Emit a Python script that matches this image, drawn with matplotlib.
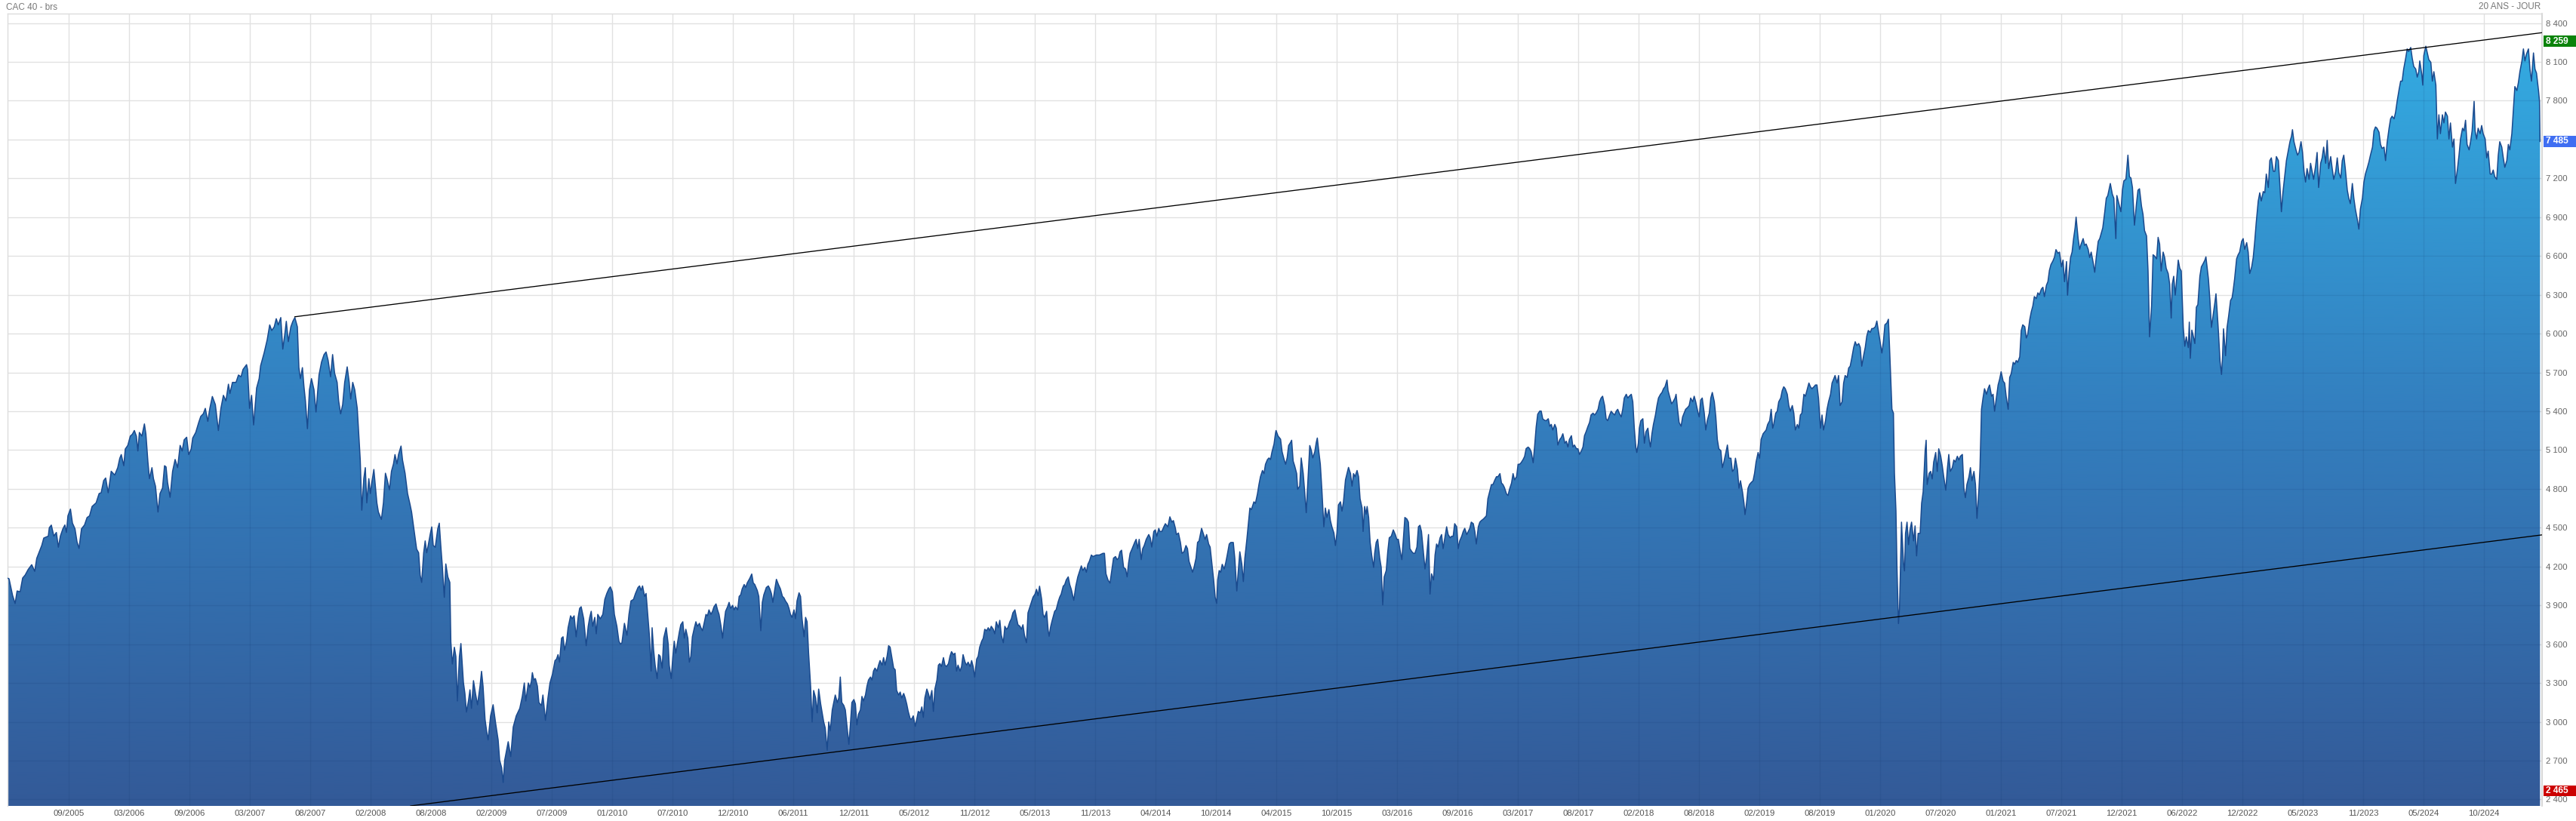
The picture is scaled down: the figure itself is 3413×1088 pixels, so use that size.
import numpy as np
import matplotlib
matplotlib.use("Agg")
import matplotlib.pyplot as plt
from matplotlib.colors import LinearSegmentedColormap
from matplotlib.patches import PathPatch, Rectangle
import matplotlib.transforms as mtransforms

plt.rcParams['font.family'] = ['Liberation Sans', 'DejaVu Sans']

# ---- data: (trading-session index, CAC 40 close) ----
seg_2005_2009 = [(0,4110),(3,4105),(10,3977),(15,3914),(19,4011),(25,4005),(30,4111),(35,4134),(41,4177),(48,4214),
(54,4163),(58,4263),(68,4363),(72,4420),(81,4435),(83,4500),(87,4520),(92,4435),(97,4463),(101,4349),(105,4435),
(110,4492),(114,4521),(117,4463),(120,4592),(125,4644),(129,4535),(134,4492),(138,4392),(142,4340),(147,4492),
(153,4521),(158,4578),(163,4592),(168,4664),(176,4692),(182,4764),(186,4770),(191,4864),(195,4884),(200,4770),
(203,4850),(206,4936),(213,4907),(219,4964),(223,5036),(226,5065),(231,4979),(234,5108),(239,5136),(244,5208),
(248,5222),(252,5251),(256,5208),(259,5093),(262,5236),(267,5208),(272,5302),(275,5222),(279,5007),(282,4879),
(287,4964),(290,4879),(294,4821),(299,4621),(303,4764),(308,4807),(312,4979),(315,4970),(318,4850),(323,4735),
(328,4936),(333,5027),(338,4964),(343,5136),(347,5093),(351,5179),(356,5199),(360,5065),(365,5108),(368,5193),
(374,5236),(380,5314),(384,5360),(389,5380),(393,5422),(398,5322),(402,5422),(407,5514),(413,5451),(419,5251),
(424,5422),(429,5523),(434,5480),(439,5609),(442,5537),(447,5623),(454,5623),(459,5680),(464,5666),(468,5723),
(475,5760),(477,5723),(481,5422),(485,5523),(489,5294),(495,5580),(500,5652),(503,5752),(510,5852),(516,5952),
(521,6067),(525,6024),(530,6052),(534,6115),(538,6067),(543,6124),(547,5880),(551,5995),(554,6095),(558,5938),
(563,6052),(567,6095),(571,6124),(576,6052),(579,5737),(582,5652),(586,5737),(589,5594),(592,5480),(596,5265),
(600,5566),(604,5652),(609,5566),(613,5394),(619,5680),(624,5780),(629,5838),(633,5858),(637,5795),(642,5666),
(646,5838),(650,5694),(655,5623),(658,5480),(662,5380),(666,5451),(670,5623),(675,5743),(679,5623),(682,5494),
(686,5623),(690,5566),(695,5422),(698,5222),(701,5022),(704,4635),(708,4879),(711,4964),(714,4692),(718,4879),
(721,4764),(724,4850),(728,4950),(731,4821),(734,4692),(737,4621),(743,4564),(747,4692),(751,4921),(754,4879),
(759,4793),(763,4936),(767,4993),(770,5065),(774,4993),(777,5065),(782,5131),(785,5022),(790,4921),(795,4764),
(800,4678),(803,4621),(807,4506),(810,4420),(813,4335),(817,4306),(820,4134),(823,4077),(827,4306),(830,4398),
(833,4306),(836,4363),(840,4449),(843,4506),(846,4363),(850,4349),(855,4492),(858,4535),(861,4363),(864,4206),
(868,3962),(871,4220),(875,4120),(879,4077),(881,3619),(884,3447),(888,3576),(891,3504),(894,3161),(898,3504),
(901,3605),(906,3304),(909,3218),(912,3075),(916,3161),(919,3247),(922,3104),(926,3318),(930,3218),(934,3132),
(939,3275),(942,3390),(945,3275),(949,3018),(952,2932),(955,2860),(960,3046),(965,3132),(970,2989),(975,2860),
(978,2703),(982,2645),(985,2531),(988,2703),(995,2846),(1000,2731),(1005,2960),(1011,3046),(1018,3104)]

seg_2009_2013 = [(1023,3196),(1027,3300),(1030,3161),(1035,3300),(1038,3265),(1041,3311),(1043,3380),(1046,3323),
(1049,3334),(1053,3276),(1056,3149),(1061,3126),(1064,3207),(1069,3011),(1074,3184),(1078,3300),(1083,3369),
(1088,3473),(1091,3484),(1094,3519),(1097,3461),(1101,3646),(1104,3657),(1107,3554),(1111,3623),(1114,3727),
(1119,3819),(1122,3796),(1126,3819),(1130,3657),(1134,3807),(1137,3877),(1140,3889),(1145,3796),(1150,3588),
(1154,3738),(1157,3807),(1160,3854),(1163,3738),(1167,3807),(1170,3680),(1173,3830),(1178,3796),(1183,3830),
(1187,3946),(1191,3992),(1195,4027),(1198,4043),(1202,4004),(1206,3830),(1211,3738),(1215,3623),(1218,3600),
(1221,3611),(1226,3761),(1231,3669),(1235,3830),(1239,3934),(1244,3946),(1248,3992),(1253,4038),(1256,4050),
(1259,4015),(1262,4050),(1266,3969),(1269,3992),(1272,3842),(1276,3646),(1279,3392),(1281,3727),(1284,3554),
(1287,3438),(1291,3334),(1294,3519),(1297,3507),(1301,3415),(1304,3646),(1309,3727),(1313,3600),(1315,3438),
(1319,3334),(1322,3496),(1325,3623),(1328,3530),(1332,3623),(1335,3692),(1338,3750),(1342,3773),(1345,3646),
(1348,3715),(1352,3646),(1355,3461),(1358,3507),(1361,3657),(1365,3727),(1368,3773),(1371,3738),(1375,3761),
(1378,3727),(1381,3704),(1385,3773),(1388,3830),(1391,3819),(1394,3865),(1398,3830),(1401,3854),(1404,3889),
(1408,3911),(1411,3865),(1414,3830),(1418,3738),(1421,3646),(1424,3761),(1427,3854),(1431,3889),(1434,3923),
(1437,3877),(1441,3900),(1444,3865),(1447,3889),(1451,3865),(1454,3969),(1457,3981),(1460,4027),(1464,4061),
(1467,4038),(1470,4073),(1475,4108),(1479,4142),(1482,4073),(1485,4061),(1490,4015),(1493,3969),(1497,3704),
(1500,3923),(1503,3981),(1508,4038),(1512,4050),(1515,4027),(1518,3992),(1521,3923),(1524,4004),(1528,4101),
(1532,4061),(1536,4027),(1540,3969),(1543,3958),(1546,3934),(1550,3911),(1553,3877),(1556,3830),(1559,3807),
(1563,3865),(1566,3796),(1569,3934),(1573,3997),(1576,3969),(1579,3796),(1583,3657),(1586,3807),(1589,3773),
(1592,3530),(1596,3276),(1599,2999),(1602,3242),(1606,3184),(1609,3069),(1612,3253),(1616,3138),(1619,3069),
(1622,2999),(1625,2953),(1629,2780),(1632,2999),(1635,2930),(1639,3092),(1642,3149),(1645,3207),(1649,3149),
(1652,3184),(1655,3346),(1658,3149),(1662,3126),(1665,3092),(1668,2976),(1672,2826),(1675,2976),(1678,3149),
(1682,3172),(1685,3138),(1688,2976),(1691,3057),(1695,3092),(1698,3196),(1701,3161),(1705,3207),(1708,3276),
(1711,3323),(1715,3346),(1718,3323),(1721,3392),(1724,3415),(1728,3392),(1731,3438),(1734,3473),(1738,3438),
(1741,3496),(1744,3438),(1748,3507),(1751,3588),(1754,3577),(1757,3507),(1761,3415),(1764,3403),(1767,3242),
(1771,3207),(1774,3230),(1777,3184),(1781,3219),(1784,3184),(1787,3138),(1790,3080),(1794,3022),(1797,3022),
(1800,3046),(1804,2965),(1807,3022),(1810,3080),(1814,3069),(1817,3115),(1820,3034),(1823,3184),(1827,3253),
(1830,3219),(1833,3172),(1837,3242),(1840,3080),(1843,3253),(1847,3323),(1850,3438),(1853,3450),(1856,3427),
(1860,3496),(1863,3438),(1866,3427),(1870,3450),(1873,3507),(1876,3542),(1880,3519),(1883,3530),(1886,3392),
(1889,3438),(1893,3392),(1896,3427),(1899,3519),(1903,3461),(1906,3438),(1909,3461),(1913,3427),(1916,3473),
(1919,3427),(1922,3346),(1926,3484),(1929,3507),(1932,3577),(1936,3623),(1939,3646),(1942,3715),(1946,3704),
(1949,3727),(1952,3704),(1955,3738),(1959,3715),(1962,3680),(1965,3773),(1969,3727),(1972,3784),(1975,3669),
(1979,3611),(1982,3738),(1985,3715),(1988,3727),(1992,3773),(1995,3796),(1998,3842),(2002,3865),(2005,3807),
(2008,3750),(2012,3738),(2015,3715),(2018,3750),(2021,3669),(2025,3611)]

seg_2013_2017 = [(2028,3842),(2032,3891),(2035,3927),(2038,3963),(2042,3987),(2045,4024),(2048,3975),(2051,4048),
(2055,3951),(2058,3830),(2061,3806),(2065,3854),(2068,3709),(2070,3661),(2073,3734),(2076,3782),(2081,3854),
(2084,3866),(2088,3927),(2091,3963),(2094,3987),(2098,4048),(2101,4060),(2104,4096),(2108,4120),(2111,4060),
(2114,4024),(2119,3939),(2123,4048),(2127,4120),(2131,4169),(2134,4205),(2137,4169),(2141,4193),(2144,4156),
(2147,4217),(2150,4241),(2154,4289),(2157,4277),(2164,4289),(2170,4289),(2177,4302),(2180,4302),(2183,4144),
(2187,4096),(2191,4072),(2195,4181),(2198,4265),(2202,4277),(2205,4253),(2208,4265),(2211,4314),(2214,4326),
(2218,4193),(2222,4181),(2225,4120),(2228,4229),(2231,4302),(2235,4338),(2240,4386),(2243,4410),(2246,4338),
(2249,4410),(2253,4253),(2256,4338),(2259,4362),(2263,4410),(2268,4447),(2271,4422),(2274,4350),(2278,4471),
(2281,4483),(2284,4434),(2288,4495),(2290,4471),(2294,4471),(2298,4507),(2301,4531),(2306,4507),(2310,4584),
(2314,4543),(2317,4555),(2321,4495),(2323,4447),(2327,4459),(2331,4386),(2334,4302),(2338,4314),(2342,4362),
(2345,4338),(2348,4241),(2352,4193),(2355,4156),(2358,4193),(2362,4265),(2365,4386),(2368,4398),(2373,4495),
(2376,4459),(2380,4410),(2383,4447),(2387,4374),(2390,4350),(2393,4241),(2397,4096),(2400,3963),(2403,3915),
(2405,4096),(2408,4169),(2411,4156),(2414,4217),(2418,4181),(2421,4229),(2424,4289),(2428,4374),(2431,4386),
(2436,4386),(2439,4265),(2443,4011),(2446,4169),(2449,4314),(2453,4217),(2456,4084),(2459,4265),(2463,4410),
(2466,4531),(2469,4652),(2472,4640),(2477,4700),(2480,4688),(2484,4761),(2487,4833),(2490,4894),(2494,4942),
(2497,4918),(2500,4990),(2504,5027),(2507,5039),(2510,5027),(2513,5087),(2517,5147),(2520,5232),(2521,5251),
(2525,5208),(2530,5184),(2533,5087),(2537,5027),(2540,4990),(2543,5039),(2546,5135),(2550,5160),(2552,5176),
(2555,5015),(2558,4978),(2562,4918),(2564,4797),(2568,4821),(2571,5039),(2575,4918),(2578,4773),(2581,4616),
(2585,4918),(2588,5135),(2591,5099),(2594,5039),(2598,5087),(2601,5160),(2603,5193),(2606,5087),(2609,4990),
(2612,4797),(2616,4507),(2619,4652),(2622,4579),(2626,4640),(2629,4555),(2632,4507),(2636,4459),(2639,4362),
(2642,4459),(2645,4676),(2649,4700),(2652,4628),(2655,4700),(2659,4870),(2662,4918),(2665,4966),(2669,4918),
(2672,4821),(2675,4918),(2678,4894),(2682,4942),(2685,4894),(2688,4724),(2692,4652),(2694,4471),(2697,4664),
(2700,4604),(2702,4664),(2705,4579),(2708,4386),(2711,4289),(2715,4193),(2717,4302),(2720,4386),(2723,4410),
(2727,4265),(2730,4193),(2733,3903),(2736,4120),(2740,4169),(2743,4314),(2746,4422),(2750,4434),(2754,4483),
(2758,4447),(2761,4410),(2764,4410),(2768,4314),(2771,4253),(2774,4410),(2777,4579),(2781,4567),(2784,4543),
(2787,4338),(2791,4314),(2794,4302),(2797,4302),(2801,4350),(2804,4507),(2807,4519),(2810,4471),(2814,4302),
(2817,4181),(2820,4265),(2824,4447),(2827,3987),(2830,4144),(2834,4096),(2837,4289),(2840,4374),(2843,4350),
(2847,4422),(2850,4447),(2853,4338),(2857,4434),(2860,4507),(2863,4447),(2867,4422),(2870,4434),(2873,4434),
(2876,4531),(2880,4507),(2883,4338),(2886,4398),(2890,4434),(2893,4471),(2896,4495),(2900,4447),(2903,4471),
(2906,4495),(2909,4543),(2913,4531),(2916,4471),(2919,4374),(2923,4507),(2926,4543),(2929,4555),(2933,4567),
(2936,4579),(2939,4592),(2942,4724),(2946,4785),(2949,4833),(2952,4833),(2956,4870),(2959,4894),(2962,4894),
(2966,4918),(2969,4845),(2972,4833),(2975,4809),(2979,4761),(2982,4749),(2985,4797),(2989,4845),(2992,4918),
(2995,4870),(2999,4894),(3002,4990),(3005,4990),(3008,5002),(3012,5027),(3015,5051),(3018,5111),(3022,5123),
(3025,5111),(3028,5087),(3032,5002),(3035,5135),(3038,5280),(3041,5377),(3045,5401),(3048,5401),(3051,5341),
(3055,5329)]

seg_2017_2021 = [(3058,5327),(3062,5342),(3065,5284),(3068,5298),(3071,5255),(3075,5298),(3078,5269),(3081,5139),
(3085,5182),(3088,5197),(3091,5226),(3095,5153),(3098,5168),(3101,5124),(3104,5182),(3108,5211),(3111,5124),
(3114,5139),(3118,5110),(3121,5110),(3124,5066),(3128,5095),(3131,5124),(3134,5211),(3137,5240),(3141,5284),
(3144,5313),(3147,5371),(3151,5385),(3154,5371),(3157,5385),(3161,5415),(3164,5473),(3167,5502),(3170,5516),
(3174,5444),(3177,5342),(3180,5327),(3184,5371),(3187,5400),(3190,5385),(3194,5371),(3197,5400),(3200,5415),
(3203,5385),(3207,5356),(3210,5415),(3213,5502),(3217,5531),(3220,5502),(3223,5516),(3227,5531),(3230,5473),
(3233,5269),(3236,5124),(3238,5081),(3241,5153),(3243,5269),(3246,5327),(3250,5342),(3253,5153),(3256,5240),
(3260,5269),(3263,5168),(3265,5124),(3268,5226),(3271,5298),(3275,5371),(3278,5444),(3281,5502),(3285,5531),
(3288,5545),(3291,5574),(3294,5589),(3298,5641),(3300,5560),(3304,5502),(3307,5458),(3310,5473),(3314,5502),
(3316,5531),(3319,5415),(3322,5313),(3326,5284),(3329,5356),(3332,5385),(3335,5415),(3339,5429),(3342,5444),
(3345,5502),(3349,5473),(3352,5516),(3355,5473),(3359,5400),(3362,5356),(3365,5487),(3368,5502),(3372,5385),
(3375,5255),(3378,5327),(3382,5385),(3385,5502),(3388,5545),(3392,5473),(3395,5356),(3398,5182),(3401,5110),
(3405,5095),(3408,4964),(3411,5008),(3415,5081),(3418,5139),(3421,5037),(3425,5037),(3428,4935),(3431,4950),
(3434,5037),(3438,4950),(3441,4805),(3444,4863),(3448,4776),(3451,4689),(3453,4601),(3456,4689),(3459,4805),
(3462,4834),(3465,4848),(3469,4863),(3472,4921),(3475,5008),(3479,5081),(3482,5037),(3485,5182),(3489,5226),
(3492,5240),(3495,5255),(3498,5298),(3502,5327),(3505,5415),(3508,5269),(3510,5298),(3514,5385),(3517,5400),
(3520,5473),(3524,5502),(3527,5560),(3530,5589),(3533,5574),(3537,5531),(3540,5444),(3543,5400),(3547,5444),
(3550,5385),(3553,5255),(3557,5298),(3560,5269),(3563,5371),(3566,5385),(3570,5531),(3573,5516),(3576,5560),
(3580,5618),(3583,5589),(3586,5574),(3590,5589),(3593,5603),(3596,5603),(3599,5502),(3603,5269),(3606,5371),
(3609,5255),(3613,5327),(3616,5415),(3619,5473),(3623,5531),(3626,5618),(3629,5647),(3632,5676),(3636,5618),
(3639,5676),(3642,5444),(3646,5473),(3649,5618),(3652,5676),(3656,5661),(3659,5734),(3662,5748),(3665,5807),
(3669,5894),(3672,5937),(3675,5908),(3679,5923),(3682,5894),(3685,5748),(3689,5836),(3692,5894),(3695,5981),
(3698,6024),(3702,6010),(3705,6039),(3708,6039),(3712,6053),(3715,6097),(3718,6024),(3722,5923),(3725,5850),
(3728,5937),(3731,6068),(3735,6082),(3738,6111),(3741,5821),(3745,5415),(3748,5385),(3750,4921),(3753,4630),
(3755,4195),(3758,3759),(3760,3875),(3762,4195),(3764,4543),(3768,4224),(3770,4166),(3772,4456),(3775,4543),
(3778,4369),(3781,4485),(3784,4543),(3788,4398),(3791,4514),(3794,4282),(3797,4456),(3801,4456),(3804,4689),
(3807,4776),(3811,5095),(3813,5176),(3815,4834),(3819,4921),(3822,4935),(3825,4877),(3828,5008),(3832,5081),
(3835,4935),(3838,5110),(3842,5052),(3845,4979),(3848,4892),(3852,4790),(3855,4950),(3858,5066),(3861,4935),
(3865,4964),(3868,5023),(3871,5008),(3875,5052),(3878,5023),(3881,5052),(3885,5066),(3888,4805),(3891,4732),
(3894,4834),(3898,4892),(3901,4964),(3904,4863),(3908,4935),(3911,4834),(3914,4572),(3918,4805),(3920,4964),
(3923,5415),(3926,5502),(3929,5574),(3933,5531),(3936,5574),(3939,5603),(3943,5516),(3946,5531),(3949,5400),
(3953,5516),(3956,5603),(3959,5647),(3962,5705),(3966,5632),(3969,5618),(3972,5516),(3976,5415),(3979,5661),
(3982,5690),(3986,5778),(3989,5763),(3992,5792),(3995,5778),(3999,5821),(4002,6024),(4005,6068),(4009,6053),
(4012,5966),(4015,5995),(4019,6111),(4022,6170),(4025,6213),(4028,6286),(4032,6271),(4035,6315),(4038,6300),
(4042,6344),(4045,6358),(4048,6286),(4052,6373),(4055,6402),(4058,6489),(4061,6533),(4065,6562),(4068,6591),
(4071,6649),(4075,6620)]

seg_2021_2025 = [(4078,6630),(4082,6516),(4085,6568),(4088,6401),(4092,6557),(4094,6297),(4097,6474),(4100,6588),
(4103,6630),(4106,6734),(4109,6817),(4111,6900),(4115,6734),(4118,6651),(4121,6692),(4125,6734),(4128,6682),
(4131,6692),(4135,6651),(4138,6588),(4141,6630),(4145,6547),(4148,6474),(4151,6588),(4155,6713),(4158,6734),
(4161,6776),(4164,6817),(4168,6942),(4171,7046),(4174,7067),(4179,7160),(4183,7077),(4186,7046),(4190,6734),
(4192,7067),(4196,7004),(4200,6942),(4203,7108),(4206,7181),(4210,7192),(4214,7379),(4217,7212),(4220,7202),
(4223,7129),(4227,6838),(4231,7004),(4234,7108),(4237,7119),(4241,6984),(4244,6921),(4247,6796),(4251,6755),
(4254,6484),(4257,5975),(4261,6214),(4264,6609),(4267,6599),(4271,6578),(4274,6744),(4277,6692),(4280,6484),
(4284,6630),(4287,6588),(4290,6505),(4294,6464),(4297,6380),(4300,6120),(4302,6380),(4305,6443),(4308,6297),
(4310,6380),(4314,6568),(4317,6505),(4320,6484),(4324,6048),(4327,5902),(4330,5975),(4334,5892),(4336,6089),
(4338,5809),(4341,6027),(4343,5996),(4347,5923),(4350,6204),(4353,6224),(4357,6443),(4360,6516),(4363,6537),
(4367,6568),(4369,6593),(4371,6526),(4374,6422),(4377,6256),(4380,6048),(4383,6131),(4387,6245),(4389,6308),
(4391,6193),(4394,6006),(4397,5788),(4400,5684),(4402,5819),(4404,6037),(4408,5829),(4411,6048),(4414,6131),
(4418,6256),(4421,6277),(4423,6328),(4426,6422),(4430,6578),(4433,6609),(4436,6630),(4440,6713),(4443,6734),
(4446,6651),(4450,6703),(4453,6630),(4456,6464),(4460,6516),(4463,6588),(4466,6713),(4469,6859),(4473,7025),
(4476,7088),(4479,7025),(4483,7098),(4486,7088),(4489,7233),(4493,7129),(4496,7337),(4499,7358),(4503,7254),
(4506,7254),(4509,7368),(4513,7337),(4516,7150),(4519,6942),(4522,7088),(4526,7233),(4529,7337),(4532,7400),
(4536,7483),(4539,7524),(4541,7576),(4544,7483),(4548,7420),(4551,7379),(4554,7400),(4558,7483),(4561,7400),
(4564,7254),(4567,7171),(4570,7275),(4574,7192),(4577,7316),(4580,7254),(4583,7192),(4587,7296),(4590,7400),
(4593,7129),(4597,7316),(4600,7358),(4603,7441),(4607,7316),(4610,7493),(4613,7275),(4617,7368),(4620,7275),
(4623,7192),(4627,7254),(4630,7358),(4633,7244),(4637,7202),(4640,7337),(4643,7379),(4646,7275),(4650,7108),
(4653,7046),(4656,7004),(4660,7160),(4663,7046),(4666,6963),(4670,6880),(4673,6807),(4676,6963),(4680,7046),
(4683,7171),(4686,7233),(4690,7285),(4693,7327),(4696,7379),(4700,7441),(4703,7566),(4706,7597),(4709,7587),
(4713,7556),(4716,7462),(4719,7431),(4723,7441),(4726,7337),(4729,7472),(4733,7587),(4736,7660),(4739,7680),
(4743,7660),(4746,7712),(4749,7795),(4753,7888),(4756,7951),(4759,7951),(4762,8044),(4766,8128),(4769,8200),
(4772,8180),(4776,8211),(4779,8128),(4782,8065),(4786,8044),(4789,7982),(4792,8024),(4794,8107),(4798,8003),
(4800,7920),(4802,8148),(4806,8221),(4809,8169),(4812,8117),(4816,8096),(4819,7951),(4822,8024),(4826,7920),
(4829,7504),(4832,7691),(4835,7545),(4839,7691),(4842,7628),(4845,7712),(4849,7680),(4852,7504),(4855,7628),
(4859,7441),(4862,7504),(4865,7160),(4869,7275),(4872,7379),(4875,7504),(4879,7587),(4882,7566),(4885,7649),
(4888,7462),(4892,7420),(4895,7483),(4898,7566),(4902,7795),(4904,7566),(4907,7504),(4910,7587),(4914,7545),
(4917,7608),(4920,7545),(4924,7504),(4927,7358),(4930,7410),(4934,7233),(4937,7233),(4940,7264),(4943,7212),
(4947,7192),(4950,7379),(4953,7483),(4957,7441),(4960,7358),(4963,7285),(4967,7337),(4970,7462),(4973,7420),
(4977,7545),(4980,7732),(4983,7909),(4987,7878),(4990,7940),(4993,8024),(4997,8107),(5000,8200),(5003,8107),
(5006,8159),(5010,8200),(5013,8044),(5016,7951),(5020,8169),(5023,8044),(5026,8013),(5030,7878),(5032,7795),
(5033,7485)]

x_tick_labels = ["09/2005", "03/2006", "09/2006", "03/2007", "08/2007", "02/2008", "08/2008", "02/2009",
                 "07/2009", "01/2010", "07/2010", "12/2010", "06/2011", "12/2011", "05/2012", "11/2012",
                 "05/2013", "11/2013", "04/2014", "10/2014", "04/2015", "10/2015", "03/2016", "09/2016",
                 "03/2017", "08/2017", "02/2018", "08/2018", "02/2019", "08/2019", "01/2020", "07/2020",
                 "01/2021", "07/2021", "12/2021", "06/2022", "12/2022", "05/2023", "11/2023", "05/2024",
                 "10/2024"]
x_tick_sessions = [121.5 + 120 * i for i in range(len(x_tick_labels))]
y_ticks = list(range(2400, 8401, 300))

last_value = 7485
period_high = 8259
period_low = 2465
upper_trend = [(571, 6130), (5036, 8325)]
lower_trend = [(801, 2350), (5036, 4444)]

title_left = "CAC 40 - brs"
title_right = "20 ANS - JOUR"

# ---- assemble ----
points = seg_2005_2009 + seg_2009_2013 + seg_2013_2017 + seg_2017_2021 + seg_2021_2025
xs = np.array([p[0] for p in points], dtype=float)
ys = np.array([p[1] for p in points], dtype=float)

W, H = 3413, 1088
fig = plt.figure(figsize=(W / 100, H / 100), dpi=100)
fig.patch.set_facecolor('white')
ax_l, ax_r, ax_t, ax_b = 10, 3368, 18, 1068
ax = fig.add_axes([ax_l / W, (H - ax_b) / H, (ax_r - ax_l) / W, (ax_b - ax_t) / H])
XMIN, XMAX = 0, 5037
YMIN, YMAX = 2350, 8473

ax.set_axisbelow(True)

poly = ax.fill_between(xs, ys, YMIN, facecolor='none', edgecolor='none')
path = poly.get_paths()[0]
clip_patch = PathPatch(path, transform=ax.transData, fc='none', ec='none')
ax.add_patch(clip_patch)

cmap = LinearSegmentedColormap.from_list('cac', ['#335a98', '#337fbf', '#33aee4'])
grad = np.linspace(0, 1, 512).reshape(-1, 1)
im = ax.imshow(grad, extent=[XMIN, XMAX, YMIN, YMAX], origin='lower', aspect='auto',
               cmap=cmap, zorder=1, interpolation='bilinear')
im.set_clip_path(clip_patch)

ax.set_xlim(XMIN, XMAX)
ax.set_ylim(YMIN, YMAX)

ax.set_xticks(x_tick_sessions)
ax.set_xticklabels(x_tick_labels)
ax.set_yticks(y_ticks)
ax.set_yticklabels([f"{v:,}".replace(",", " ") for v in y_ticks])
ax.grid(True, color='#e1e1e1', lw=1.0)

# darker grid lines visible through the area
vl = ax.vlines(x_tick_sessions, YMIN, YMAX, colors='#0a2a60', alpha=0.10, lw=1.0, zorder=1.5)
vl.set_clip_path(clip_patch)
hl = ax.hlines(y_ticks, XMIN, XMAX, colors='#0a2a60', alpha=0.10, lw=1.0, zorder=1.5)
hl.set_clip_path(clip_patch)

ax.plot(xs, ys, color='#1a4a8e', lw=1.1, zorder=3, solid_joinstyle='round')

ax.plot([p[0] for p in upper_trend], [p[1] for p in upper_trend], color='black', lw=0.95, zorder=4)
ax.plot([p[0] for p in lower_trend], [p[1] for p in lower_trend], color='black', lw=0.95, zorder=4)

ax.yaxis.tick_right()
ax.tick_params(axis='y', length=0, pad=3.6, labelsize=8.2, labelcolor='#666666')
ax.tick_params(axis='x', length=0, pad=3.8, labelsize=8.2, labelcolor='#555555')

for side in ['top', 'left']:
    ax.spines[side].set_color('#dcdcdc')
    ax.spines[side].set_linewidth(1.0)
ax.spines['right'].set_color('#cfcfcf')
ax.spines['right'].set_linewidth(1.2)
ax.spines['bottom'].set_visible(False)

# value boxes on the right
trans = mtransforms.blended_transform_factory(ax.transAxes, ax.transData)
axw = ax_r - ax_l
units_per_px = (YMAX - YMIN) / (ax_b - ax_t)
box_x0 = (3370 - ax_l) / axw
box_w = (W - 3370 + 2) / axw
half_h = 7.2 * units_per_px
for val, col in [(period_high, '#0b830b'), (last_value, '#3f6ef2'), (period_low, '#cc0000')]:
    r = Rectangle((box_x0, val - half_h), box_w, 2 * half_h, transform=trans,
                  facecolor=col, edgecolor='none', clip_on=False, zorder=10)
    ax.add_patch(r)
    ax.text((3373 - ax_l) / axw, val, f"{val:,}".replace(",", " "), transform=trans,
            color='white', fontsize=8.6, fontweight='bold', ha='left', va='center',
            zorder=11, clip_on=False)

fig.text(8 / W, 1 - 10 / H, title_left, ha='left', va='center', fontsize=8.5, color='#777777')
fig.text(3366 / W, 1 - 9 / H, title_right, ha='right', va='center', fontsize=8.5, color='#777777')

fig.savefig('out.png', dpi=100, facecolor='white')
